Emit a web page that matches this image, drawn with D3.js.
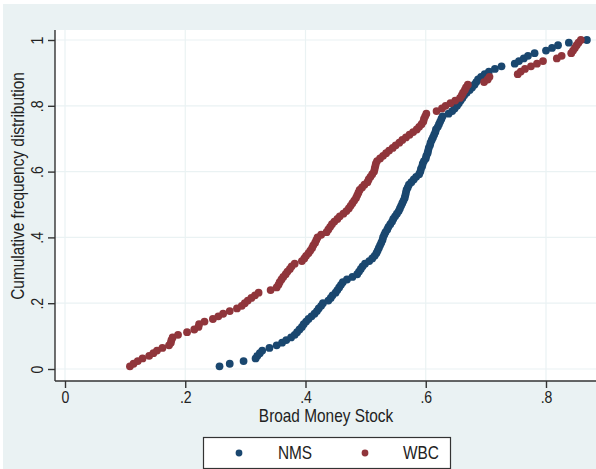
<!DOCTYPE html>
<html>
<head>
<meta charset="utf-8">
<script src="https://cdn.jsdelivr.net/npm/d3@7"></script>
<style>
  body { margin: 0; background: #fff; }
  svg text { font-family: "Liberation Sans", Arial, sans-serif; fill: #222; }
</style>
</head>
<body>
<svg id="chart" width="596" height="469"></svg>
<script>
// tick values
var xTicks = [0, 0.2, 0.4, 0.6, 0.8];
var yTicks = [0, 0.2, 0.4, 0.6, 0.8, 1];

// broad money stock, sorted sample of each group
var nmsValues = [
  0.257, 0.274, 0.297, 0.317, 0.320, 0.324, 0.328, 0.340, 0.352, 0.361,
  0.368, 0.376, 0.382, 0.386, 0.390, 0.394, 0.397, 0.401, 0.405, 0.410,
  0.415, 0.419, 0.422, 0.426, 0.429, 0.438, 0.442, 0.445, 0.450, 0.453,
  0.456, 0.459, 0.462, 0.469, 0.478, 0.486, 0.489, 0.492, 0.495, 0.499,
  0.506, 0.511, 0.515, 0.518, 0.520, 0.522, 0.524, 0.526, 0.528, 0.529,
  0.531, 0.533, 0.536, 0.538, 0.541, 0.544, 0.546, 0.549, 0.552, 0.555,
  0.557, 0.559, 0.561, 0.563, 0.565, 0.566, 0.567, 0.568, 0.570, 0.572,
  0.576, 0.580, 0.584, 0.589, 0.591, 0.592, 0.594, 0.595, 0.597, 0.600,
  0.601, 0.603, 0.604, 0.605, 0.607, 0.608, 0.610, 0.612, 0.614, 0.616,
  0.617, 0.620, 0.622, 0.624, 0.626, 0.628, 0.638, 0.644, 0.648, 0.652,
  0.655, 0.658, 0.661, 0.664, 0.668, 0.673, 0.677, 0.681, 0.684, 0.687,
  0.692, 0.698, 0.705, 0.715, 0.726, 0.748, 0.755, 0.763, 0.770, 0.781,
  0.800, 0.810, 0.820, 0.838, 0.868
];
var wbcValues = [
  0.108, 0.114, 0.121, 0.129, 0.140, 0.147, 0.153, 0.162, 0.173, 0.176,
  0.177, 0.179, 0.188, 0.203, 0.215, 0.222, 0.223, 0.232, 0.246, 0.255,
  0.263, 0.274, 0.286, 0.294, 0.299, 0.304, 0.310, 0.316, 0.322, 0.342,
  0.352, 0.355, 0.357, 0.360, 0.363, 0.367, 0.370, 0.374, 0.377, 0.382,
  0.394, 0.398, 0.401, 0.405, 0.408, 0.411, 0.413, 0.416, 0.418, 0.420,
  0.426, 0.435, 0.438, 0.441, 0.444, 0.448, 0.453, 0.457, 0.463, 0.468,
  0.472, 0.475, 0.478, 0.481, 0.484, 0.486, 0.488, 0.490, 0.494, 0.498,
  0.503, 0.505, 0.508, 0.511, 0.514, 0.515, 0.516, 0.517, 0.519, 0.524,
  0.529, 0.534, 0.539, 0.545, 0.550, 0.556, 0.561, 0.567, 0.573, 0.579,
  0.585, 0.589, 0.593, 0.596, 0.597, 0.599, 0.601, 0.618, 0.627, 0.633,
  0.641, 0.649, 0.657, 0.660, 0.662, 0.665, 0.667, 0.670, 0.697, 0.703,
  0.706, 0.753, 0.758, 0.765, 0.775, 0.785, 0.795, 0.818, 0.826, 0.842,
  0.845, 0.848, 0.851, 0.854, 0.858
];
var seriesNames = ['NMS', 'WBC'];

const colors = { NMS: '#1a476f', WBC: '#90353b' };
const bg = '#eaf2f3';
const squeeze = 'scale(0.88,1)';

var svg = d3.select('#chart');

var x = d3.scaleLinear().domain([0, 0.8]).range([65, 546]);
var y = d3.scaleLinear().domain([0, 1]).range([369, 40]);

var plotLeft = 55, plotRight = 596, plotTop = 30, plotBottom = 381;

svg.append('rect')
  .attr('x', 3).attr('y', 4)
  .attr('width', 593).attr('height', 465)
  .attr('fill', bg);

svg.append('rect')
  .attr('x', plotLeft).attr('y', plotTop)
  .attr('width', plotRight - plotLeft).attr('height', plotBottom - plotTop)
  .attr('fill', '#fff');

// grid
var grid = svg.append('g').attr('stroke', bg).attr('stroke-width', 1.2);
grid.selectAll('.gx').data(xTicks).enter().append('line')
  .attr('x1', x).attr('x2', x)
  .attr('y1', plotTop).attr('y2', plotBottom);
grid.selectAll('.gy').data(yTicks).enter().append('line')
  .attr('y1', y).attr('y2', y)
  .attr('x1', plotLeft).attr('x2', plotRight);

function tickFormat(d) {
  if (d === 0) return '0';
  if (d === 1) return '1';
  return d3.format('.1f')(d).replace(/^0/, '');
}

// cumulative frequency of each sorted sample
function cumulative(values) {
  var sorted = values.slice().sort(d3.ascending);
  return sorted.map(function(v, i) {
    return { x: v, f: (i + 1) / sorted.length };
  });
}

var series = [
  { name: 'NMS', points: cumulative(nmsValues) },
  { name: 'WBC', points: cumulative(wbcValues) }
];

var marks = svg.append('g');
series.forEach(function(s) {
  marks.append('g')
    .attr('fill', colors[s.name])
    .selectAll('circle')
    .data(s.points)
    .enter()
    .append('circle')
    .attr('cx', function(d) { return x(d.x); })
    .attr('cy', function(d) { return y(d.f); })
    .attr('r', 3.9);
});

// axes
var xAxis = svg.append('g')
  .attr('transform', 'translate(0,' + plotBottom + ')')
  .call(d3.axisBottom(x).tickValues(xTicks).tickFormat(tickFormat).tickSize(7).tickPadding(4).tickSizeOuter(0));
xAxis.select('.domain').attr('d', 'M' + plotLeft + ',0H' + plotRight);
xAxis.selectAll('text').attr('transform', squeeze);

var yAxis = svg.append('g')
  .attr('transform', 'translate(' + plotLeft + ',0)')
  .call(d3.axisLeft(y).tickValues(yTicks).tickFormat(tickFormat).tickSize(7).tickSizeOuter(0));
yAxis.select('.domain').attr('d', 'M0,' + plotTop + 'V' + plotBottom);
yAxis.selectAll('text')
  .attr('x', 0).attr('dy', '0.35em')
  .attr('text-anchor', 'middle')
  .attr('transform', 'translate(-18,0) rotate(-90) ' + squeeze);

svg.selectAll('.domain, .tick line').attr('stroke', '#333').attr('stroke-width', 1.4);
svg.selectAll('.tick text').attr('font-size', 16).attr('fill', '#222')
  .style('font-family', '"Liberation Sans", Arial, sans-serif');

// titles
svg.append('text')
  .attr('transform', 'translate(326,422) ' + squeeze)
  .attr('text-anchor', 'middle')
  .attr('font-size', 17.5)
  .text('Broad Money Stock');

svg.append('text')
  .attr('transform', 'translate(24,186) rotate(-90) ' + squeeze)
  .attr('text-anchor', 'middle')
  .attr('font-size', 17.5)
  .text('Cumulative frequency distribution');

// legend
var legend = svg.append('g');
legend.append('rect')
  .attr('x', 203.5).attr('y', 437.5)
  .attr('width', 247).attr('height', 31)
  .attr('fill', '#fff').attr('stroke', '#333').attr('stroke-width', 1.2);

var legendX = d3.scalePoint().domain(seriesNames).range([239, 365]);
var item = legend.selectAll('.item').data(seriesNames).enter().append('g');
item.append('circle')
  .attr('cx', function(d) { return legendX(d); })
  .attr('cy', 453)
  .attr('r', 3.4)
  .attr('fill', function(d) { return colors[d]; });
item.append('text')
  .attr('transform', function(d) { return 'translate(' + (legendX(d) + 56) + ',459) ' + squeeze; })
  .attr('text-anchor', 'middle')
  .attr('font-size', 17.5)
  .text(function(d) { return d; });
</script>
</body>
</html>
